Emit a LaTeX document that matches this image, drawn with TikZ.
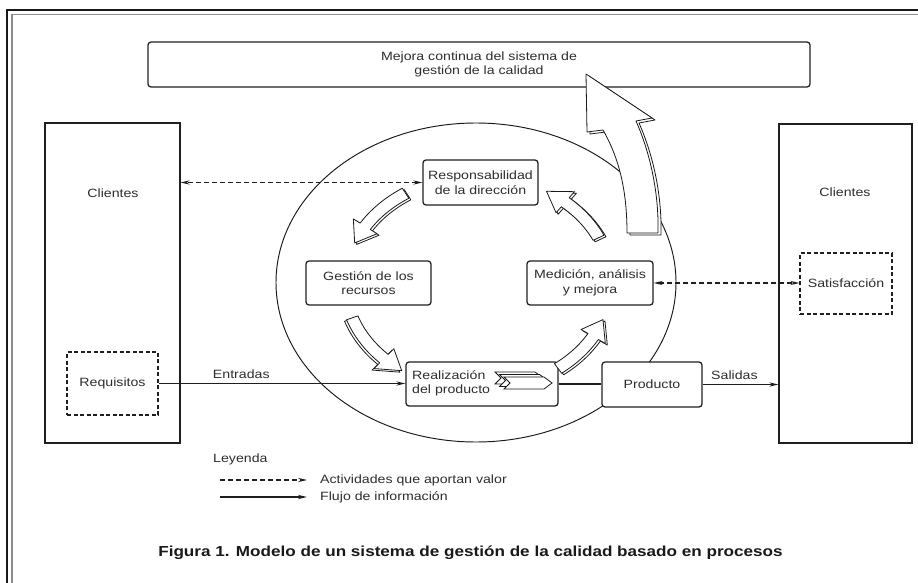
\documentclass[tikz,border=0pt]{standalone}
\usepackage{fontspec}
\setmainfont{Liberation Sans}[FakeStretch=1.18]
\usetikzlibrary{arrows.meta}
\newcommand{\cycarrowpath}[3]{%
  \draw[blockarrow] plot[domain=#1:#2,samples=12] ({478+139*cos(\x)},{283-113*sin(\x)})
   -- ({478+147*cos(#2)},{283-121*sin(#2)})
   -- ({478+133*cos(#3)},{283-107*sin(#3)})
   -- ({478+119*cos(#2)},{283-93*sin(#2)})
   -- plot[domain=#2:#1,samples=12] ({478+127*cos(\x)},{283-101*sin(\x)}) -- cycle;}
\newcommand{\cycarrow}[5]{%
  \begin{scope}[shift={(#4,#5)}]\cycarrowpath{#1}{#2}{#3}\end{scope}
  \cycarrowpath{#1}{#2}{#3}}
\newcommand{\chev}[2]{\draw[chevstyle] (#1,#2) -- ++(40,0) -- ++(8,6) -- ++(-8,6) -- ++(-40,0) -- ++(6,-6) -- cycle;}
\begin{document}
\begin{tikzpicture}[x=1pt,y=-1pt,
  >={Stealth[length=9pt,width=4.2pt]},
  every node/.style={inner sep=0pt},
  txt/.style={font=\fontsize{12}{14.5}\selectfont, text=black!82, align=center},
  box/.style={draw=black!88, line width=1.25pt, rounded corners=3pt, fill=white, txt},
  plainbox/.style={draw=black!88, line width=1.25pt, fill=white},
  dashbox/.style={draw=black!88, line width=1.2pt, dash pattern=on 4pt off 2.5pt, fill=white, txt},
  flow/.style={draw=black!88, line width=1.3pt, ->},
  conn/.style={draw=black!88, line width=1.3pt},
  dflow/.style={draw=black!88, line width=1.1pt, dash pattern=on 5pt off 3pt, <->},
  dflowone/.style={draw=black!88, line width=1.1pt, dash pattern=on 5pt off 3pt, ->},
  blockarrow/.style={draw=black!90, line width=0.8pt, fill=white, line join=round},
  chevstyle/.style={draw=black!90, line width=0.8pt, fill=white, line join=miter},
  lbl/.style={txt}
]
\useasboundingbox (0,0) rectangle (918,583);
\fill[white] (0,0) rectangle (918,583);
% frame
\draw[line width=1.4pt, black!90] (7,583) -- (7,10) -- (918,10);
\draw[line width=1.4pt, black!45] (12,583) -- (12,14.5) -- (918,14.5);

% ellipse
\draw[line width=0.95pt, black!90] (476,282.5) ellipse [x radius=200pt, y radius=159.5pt];

% top box
\node[box, minimum width=662pt, minimum height=45pt] (mejora) at (479,64.5)
  {Mejora continua del sistema de\\gestión de la calidad};

% clients left
\node[plainbox, minimum width=135pt, minimum height=320pt] (cliL) at (112.5,283) {};
\node[txt] (cliLt) at (113,193) {Clientes};
\node[dashbox, minimum width=91pt, minimum height=63pt] (req) at (112.5,383.5) {Requisitos};

% clients right
\node[plainbox, minimum width=133pt, minimum height=319pt] (cliR) at (845.5,283.5) {};
\node[txt] (cliRt) at (845,192) {Clientes};
\node[dashbox, minimum width=92pt, minimum height=61pt] (sat) at (846,283.5) {Satisfacción};

% process boxes
\node[box, minimum width=115pt, minimum height=45pt] (resp) at (480.5,182.5) {Responsabilidad\\de la dirección};
\node[box, minimum width=125pt, minimum height=44pt] (gest) at (368.5,283) {Gestión de los\\recursos};
\node[box, minimum width=126pt, minimum height=44pt] (med) at (590,283) {Medición, análisis\\y mejora};
\node[box, minimum width=152pt, minimum height=44pt] (real) at (482,384) {};
\node[txt, align=left, anchor=west] (realt) at (412,383.5) {Realización\\del producto};
\node[box, minimum width=100pt, minimum height=45pt] (prod) at (652,384.5) {Producto};

% chevron icon
\chev{495}{372}
\chev{499.5}{374.5}
\chev{504}{377}

% connectors
\draw[dflow] (resp.west) -- (resp.west -| cliL.east);
\draw[dflow] (med.east) -- (med.east -| sat.west);
\draw[flow] (req.east) -- node[lbl, above=4pt, pos=0.335] (entr) {Entradas} (req.east -| real.west);
\draw[conn] (real.east) -- (real.east -| prod.west);
\draw[flow] (prod.east) -- node[lbl, above=4pt, pos=0.42] (sal) {Salidas} (prod.east -| cliR.west);

% cycle arrows
\cycarrow{123}{148}{158}{2}{1.5}
\cycarrow{199}{225}{235}{-2}{1.5}
\cycarrow{307}{330}{340}{2}{1.5}
\cycarrow{25}{49}{59}{2}{1.5}

% big improvement arrow
\begin{scope}[shift={(3,2)}]
\draw[blockarrow] (586,74) -- (652,118) -- (636,121) .. controls (651,155) and (659,195) .. (658,233) -- (627,233) .. controls (627,190) and (619,158) .. (603,130) -- (587,132) -- cycle;
\end{scope}
\draw[blockarrow] (586,74) -- (652,118) -- (636,121) .. controls (651,155) and (659,195) .. (658,233) -- (627,233) .. controls (627,190) and (619,158) .. (603,130) -- (587,132) -- cycle;

% legend
\node[txt, anchor=west] (ley) at (213,459) {Leyenda};
\coordinate (la) at (220,480);
\coordinate (lb) at (307,480);
\coordinate (lc) at (220,497);
\coordinate (ld) at (307,497);
\draw[dflowone] (la) -- (lb);
\draw[flow] (lc) -- (ld);
\node[txt, anchor=west] (lt1) at (320,480) {Actividades que aportan valor};
\node[txt, anchor=west] (lt2) at (320,497) {Flujo de información};

% caption
\node[font=\fontsize{14.5}{17}\selectfont\bfseries, text=black!90] (cap) at (470.5,553)
  {Figura 1. Modelo de un sistema de gestión de la calidad basado en procesos};
\end{tikzpicture}
\end{document}
